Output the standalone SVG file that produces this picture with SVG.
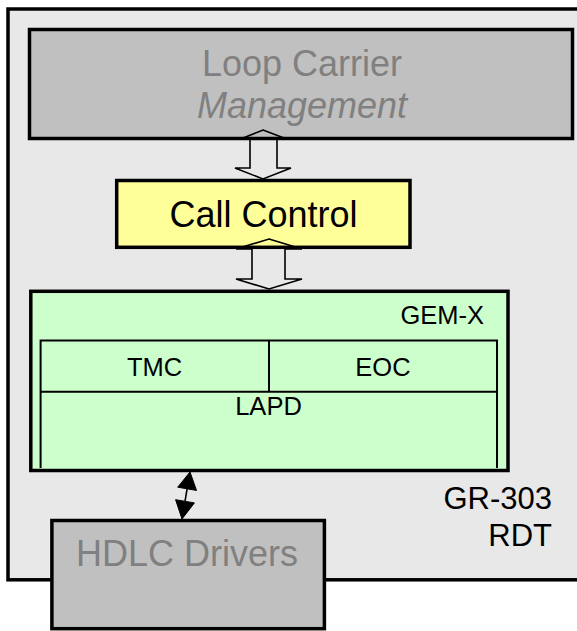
<svg xmlns="http://www.w3.org/2000/svg" width="577" height="631" viewBox="0 0 577 631">
<defs>
<style>
text{font-family:"Liberation Sans",Arial,sans-serif}
.box{stroke:#000;stroke-width:3.5}
.gray{fill:#c0c0c0}
.gt{fill:#808080;font-size:36px;text-anchor:middle}
.bt{fill:#000;text-anchor:middle}
.thin{fill:none;stroke:#000;stroke-width:2}
.blk{fill:none;stroke:#000;stroke-width:1.6;stroke-linejoin:miter}
.head{fill:#000;stroke:#000;stroke-width:1}
</style>
</defs>
<g id="rdt">
<rect x="8" y="9" width="600" height="570.8" fill="#e8e8e8" class="box"/>
<text x="552" y="509" class="bt" style="text-anchor:end;font-size:31px">GR-303</text>
<text x="552" y="546" class="bt" style="text-anchor:end;font-size:31px">RDT</text>
</g>
<g id="loop-carrier">
<rect x="29.5" y="29.5" width="543" height="109" class="box gray"/>
<text x="302" y="76" class="gt">Loop Carrier</text>
<text x="302" y="118" class="gt" font-style="italic">Management</text>
</g>
<g id="call-control">
<rect x="116.7" y="180.5" width="293.3" height="66.8" fill="#ffff99" class="box"/>
<text x="263.5" y="227" class="bt" style="font-size:36px">Call Control</text>
</g>
<g id="gem-x">
<rect x="30.8" y="291.3" width="477.2" height="179.2" fill="#ccffcc" class="box"/>
<text x="484" y="324" class="bt" style="text-anchor:end;font-size:25.5px">GEM-X</text>
<path d="M40.6,468 V340.5 H497 V468 M40.6,391.8 H497 M269,340.5 V391.8" class="thin"/>
<text x="154.5" y="376" class="bt" style="font-size:25.5px">TMC</text>
<text x="383" y="376" class="bt" style="font-size:25.5px">EOC</text>
<text x="268.5" y="415" class="bt" style="font-size:25.5px">LAPD</text>
</g>
<g id="hdlc">
<rect x="51.9" y="520.5" width="272.5" height="108.2" class="box gray"/>
<text x="187" y="566" class="gt">HDLC Drivers</text>
</g>
<g id="connectors">
<path d="M263,130 L284,138 L277,138 L277,168 L291,168 L263,179 L235,168 L250,168 L250,138 L243,138 Z" class="blk"/>
<path d="M269,239 L302,249 L285,249 L285,279 L302,279 L269,289 L236,279 L252,279 L252,249 L236,249 Z" class="blk"/>
<line x1="187.1" y1="488.8" x2="185" y2="501.3" stroke="#000" stroke-width="1.6"/>
<polygon points="190,472 196.5,490.4 177.7,487.2" class="head"/>
<polygon points="182,519 175.6,499.7 194.4,502.9" class="head"/>
</g>
</svg>
